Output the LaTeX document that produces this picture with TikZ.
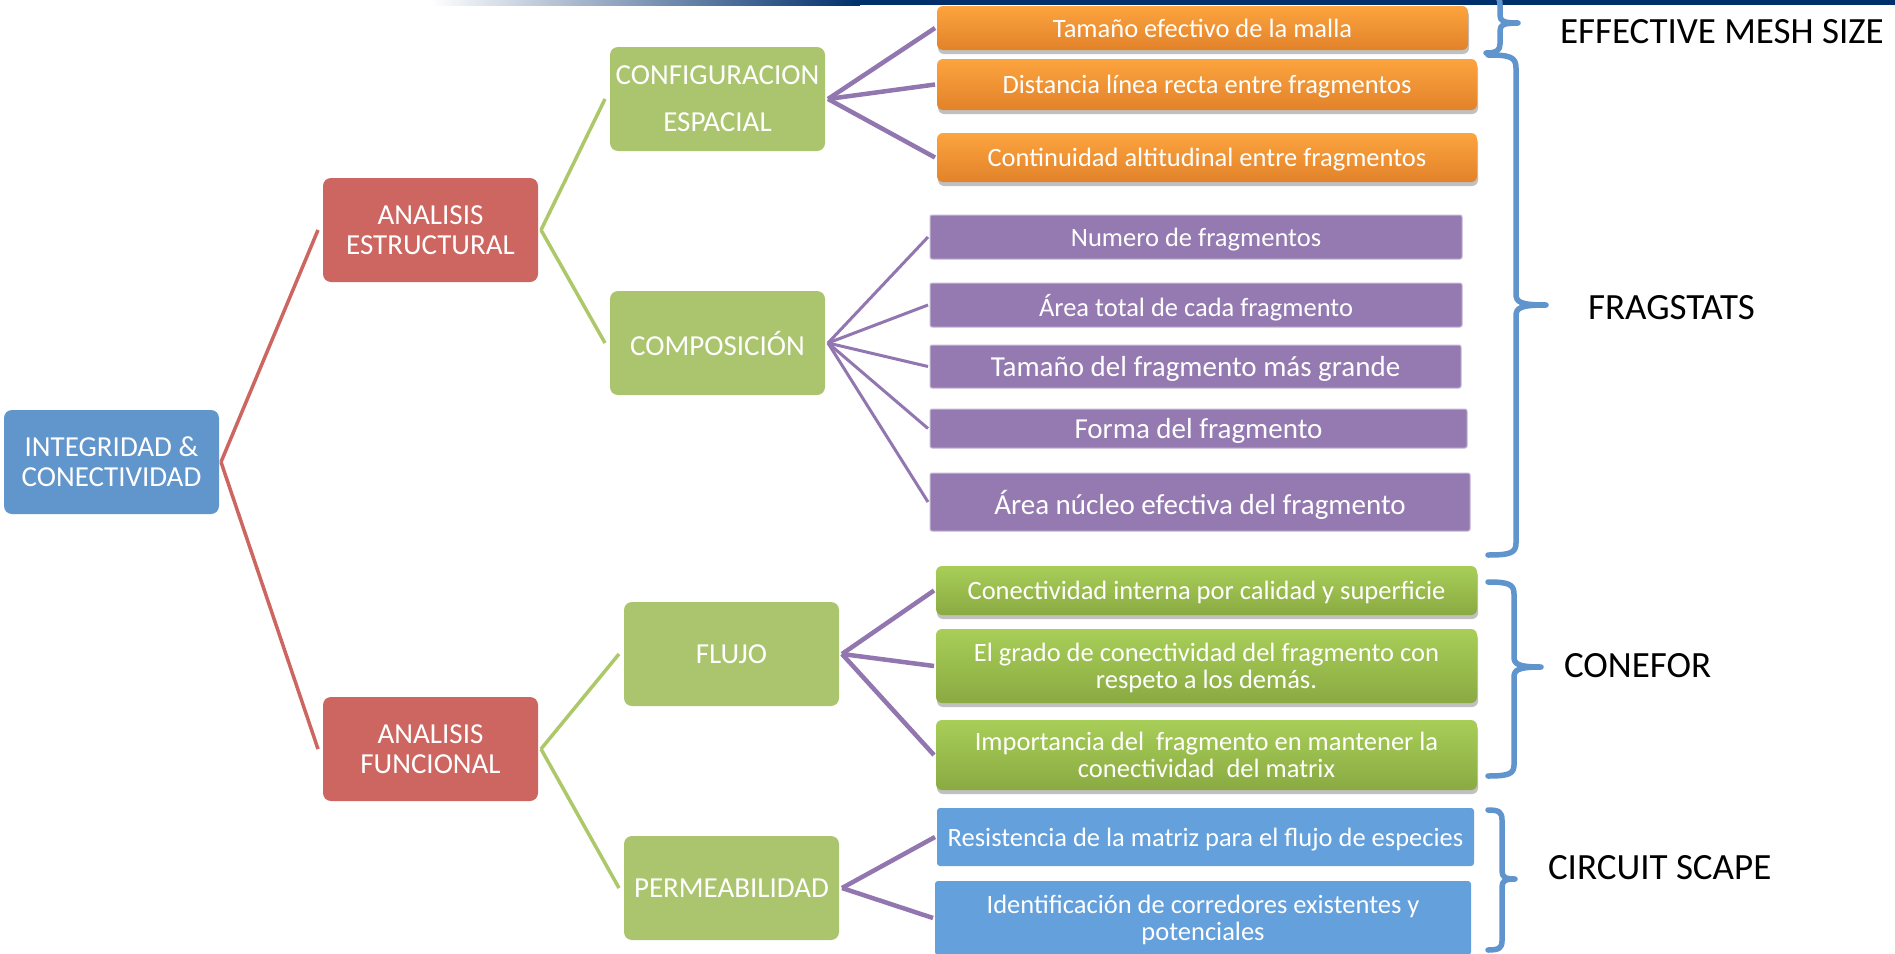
\documentclass[tikz,border=0pt]{standalone}
\usepackage{fontspec}
\setmainfont{Carlito}
\usetikzlibrary{shadows}

\definecolor{cblue}{RGB}{97,150,204}
\definecolor{cred}{RGB}{205,102,96}
\definecolor{cgreen}{RGB}{171,196,110}
\definecolor{orangetop}{RGB}{252,164,62}
\definecolor{orangebot}{RGB}{226,130,42}
\definecolor{cpurple}{RGB}{149,122,178}
\definecolor{greentop}{RGB}{168,206,88}
\definecolor{greenbot}{RGB}{138,170,66}
\definecolor{leafblue}{RGB}{99,160,220}
\definecolor{lpurple}{RGB}{146,118,176}
\definecolor{lgreen}{RGB}{172,200,104}
\definecolor{bracecol}{RGB}{95,148,205}
\definecolor{navy}{RGB}{0,47,108}

\newcommand\tzMid{\fontsize{29}{30}\selectfont}
\newcommand\tzLeaf{\fontsize{26.5}{26.5}\selectfont}
\newcommand\tzLeafB{\fontsize{29}{30}\selectfont}
\newcommand\tzLab{\fontsize{37}{40}\selectfont}

\tikzset{
  every node/.style={inner sep=0pt, outer sep=0pt},
  midbox/.style={rounded corners=8pt, minimum width=215pt, minimum height=104pt,
    align=center, font=\tzMid, text=white},
  leafshadow/.style={drop shadow={shadow xshift=1pt, shadow yshift=-4pt,
    opacity=0.35, fill=black!70}},
  leafbase/.style={align=center, font=\tzLeaf, text=white, text depth=0pt},
  orangeleaf/.style={leafbase, rounded corners=6pt, top color=orangetop,
    bottom color=orangebot, leafshadow},
  purpleleaf/.style={leafbase, rounded corners=2pt, fill=cpurple,
    draw=cpurple!55!white, line width=1pt},
  greenleaf/.style={leafbase, rounded corners=6pt, top color=greentop,
    bottom color=greenbot, leafshadow},
  blueleaf/.style={leafbase, rounded corners=3pt, fill=leafblue},
  rline/.style={draw=cred, line width=3.5pt},
  gline/.style={draw=lgreen, line width=3.5pt},
  pline/.style={draw=lpurple, line width=4.5pt},
  pthin/.style={draw=lpurple, line width=3pt},
  bracket/.style={draw=bracecol, line width=5.5pt, line cap=round, line join=round},
  lab/.style={anchor=west, font=\tzLab, text=black},
}

\begin{document}
\begin{tikzpicture}[x=1pt, y=-1pt]
\useasboundingbox (0,0) rectangle (1895,953);
\fill[white] (0,0) rectangle (1895,953);

% thin header band
\shade[left color=white, right color=navy] (430,0) rectangle (860,5);
\fill[navy] (859,0) rectangle (1895,5);

% hierarchy boxes
\node[midbox, fill=cblue] (integ) at (111.5,462) {INTEGRIDAD \&\\CONECTIVIDAD};
\node[midbox, fill=cred] (aest) at (430.5,230) {ANALISIS\\ESTRUCTURAL};
\node[midbox, fill=cred] (afun) at (430.5,749) {ANALISIS\\FUNCIONAL};
\node[midbox, fill=cgreen] (conf) at (717.5,99) {CONFIGURACION\\[17pt]ESPACIAL};
\node[midbox, fill=cgreen] (comp) at (717.5,343) {COMPOSICIÓN};
\node[midbox, fill=cgreen, text depth=0pt] (fluj) at (731.5,654) {FLUJO};
\node[midbox, fill=cgreen] (perm) at (731.5,888) {PERMEABILIDAD};

% spatial configuration measures
\node[orangeleaf, minimum width=531pt, minimum height=44pt] (o1) at (1202.5,28) {Tamaño efectivo de la malla};
\node[orangeleaf, minimum width=540pt, minimum height=51pt] (o2) at (1207,84.5) {Distancia línea recta entre fragmentos};
\node[orangeleaf, minimum width=540pt, minimum height=49pt] (o3) at (1207,157.5) {Continuidad altitudinal entre fragmentos};

% composition measures
\node[purpleleaf, minimum width=532pt, minimum height=44pt] (p1) at (1196,237) {Numero de fragmentos};
\node[purpleleaf, minimum width=532pt, minimum height=44pt] (p2) at (1196,305) {Área total de cada fragmento};
\node[purpleleaf, font=\tzLeafB, minimum width=531pt, minimum height=43pt] (p3) at (1195.5,366.5) {Tamaño del fragmento más grande};
\node[purpleleaf, font=\tzLeafB, minimum width=537pt, minimum height=39pt] (p4) at (1198.5,428.5) {Forma del fragmento};
\node[purpleleaf, font=\tzLeafB, minimum width=540pt, minimum height=58pt] (p5) at (1200,502) {Área núcleo efectiva del fragmento};

% flow measures
\node[greenleaf, minimum width=541pt, minimum height=49pt] (g1) at (1206.5,590.5) {Conectividad interna por calidad y superficie};
\node[greenleaf, minimum width=541pt, minimum height=74pt] (g2) at (1206.5,666) {El grado de conectividad del fragmento con\\respeto a los demás.};
\node[greenleaf, minimum width=541pt, minimum height=70pt] (g3) at (1206.5,755) {Importancia del\ \ fragmento en mantener la\\conectividad\ \ del matrix};

% permeability measures
\node[blueleaf, minimum width=537pt, minimum height=58pt] (b1) at (1205.5,837) {Resistencia de la matriz para el flujo de especies};
\node[blueleaf, minimum width=536pt, minimum height=74pt] (b2) at (1203,918) {Identificación de corredores existentes y\\potenciales};

% connectors
\draw[rline] ([xshift=2pt]integ.east) -- ([xshift=-5pt]aest.west);
\draw[rline] ([xshift=2pt]integ.east) -- ([xshift=-5pt]afun.west);
\draw[gline] ([xshift=3pt]aest.east) -- ([xshift=-5pt]conf.west);
\draw[gline] ([xshift=3pt]aest.east) -- ([xshift=-5pt]comp.west);
\draw[gline] ([xshift=3pt]afun.east) -- ([xshift=-5pt]fluj.west);
\draw[gline] ([xshift=3pt]afun.east) -- ([xshift=-5pt]perm.west);
\foreach \t in {o1,o2,o3}
  \draw[pline] ([xshift=3pt]conf.east) -- ([xshift=-2pt]\t.west);
\foreach \t in {p1,p2,p3,p4,p5}
  \draw[pthin] ([xshift=3pt]comp.east) -- ([xshift=-2pt]\t.west);
\foreach \t in {g1,g2,g3}
  \draw[pline] ([xshift=3pt]fluj.east) -- ([xshift=-2pt]\t.west);
\foreach \t in {b1,b2}
  \draw[pline] ([xshift=3pt]perm.east) -- ([xshift=-2pt]\t.west);

% braces
\draw[bracket] (1486,-6) .. controls (1498,-6) and (1500,-3) .. (1500,6) -- (1500,15)
  .. controls (1500,21) and (1503,23) .. (1518,23)
  .. controls (1503,23) and (1500,25) .. (1500,31) -- (1500,44)
  .. controls (1500,50) and (1497,53) .. (1486,53);
\draw[bracket] (1488,55) .. controls (1510,55) and (1516,57) .. (1516,68) -- (1516,294)
  .. controls (1516,302) and (1520,305) .. (1546,305)
  .. controls (1520,305) and (1516,308) .. (1516,316) -- (1516,543)
  .. controls (1516,553) and (1510,555) .. (1488,555);
\draw[bracket] (1488,582) .. controls (1508,582) and (1514,584) .. (1514,594) -- (1514,657)
  .. controls (1514,664) and (1518,667) .. (1541,667)
  .. controls (1518,667) and (1514,670) .. (1514,677) -- (1514,765)
  .. controls (1514,774) and (1508,776) .. (1488,776);
\draw[bracket] (1488,810) .. controls (1499,810) and (1502,812) .. (1502,820) -- (1502,871)
  .. controls (1502,877) and (1505,879) .. (1515,879)
  .. controls (1505,879) and (1502,881) .. (1502,887) -- (1502,941)
  .. controls (1502,948) and (1499,950) .. (1488,950);

% tool labels
\node[lab] (lmesh) at (1560,32) {EFFECTIVE MESH SIZE};
\node[lab] (lfrag) at (1588,308) {FRAGSTATS};
\node[lab] (lcone) at (1564,666) {CONEFOR};
\node[lab] (lcirc) at (1548,868) {CIRCUIT SCAPE};
\end{tikzpicture}
\end{document}
